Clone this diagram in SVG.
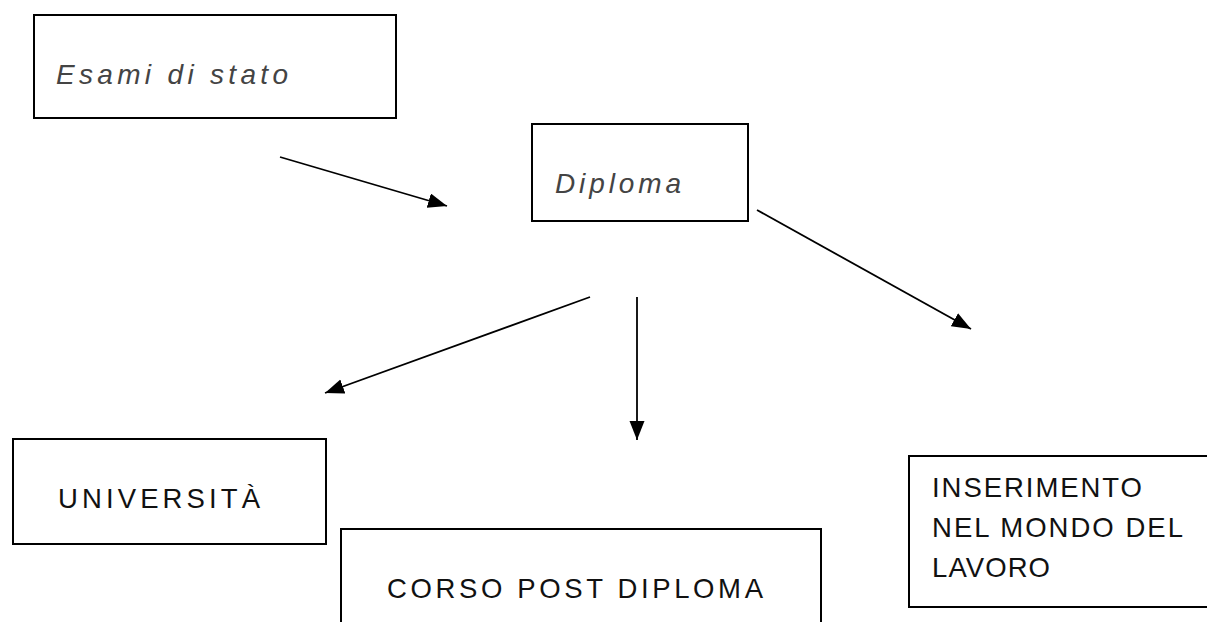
<svg xmlns="http://www.w3.org/2000/svg" width="1207" height="622" viewBox="0 0 1207 622">
<style>
.box{fill:#fff;stroke:#000;stroke-width:2}
.it{font-family:"Liberation Sans",Arial,sans-serif;font-style:italic;font-size:28px;fill:#444}
.up{font-family:"Liberation Sans",Arial,sans-serif;font-size:27.5px;fill:#111}
.con{stroke:#000;stroke-width:1.8;fill:none;marker-end:url(#ah)}
</style>
<defs>
<marker id="ah" markerUnits="userSpaceOnUse" markerWidth="22" markerHeight="16" refX="19" refY="7.5" orient="auto">
<path d="M0,0 L19,7.5 L0,15 z" fill="#000"/>
</marker>
</defs>
<rect width="1207" height="622" fill="#fff"/>
<g id="esami">
<rect class="box" x="34" y="15" width="362" height="103"/>
<text class="it" x="56" y="84" textLength="232" lengthAdjust="spacing">Esami di stato</text>
</g>
<g id="diploma">
<rect class="box" x="532" y="124" width="216" height="97"/>
<text class="it" x="555" y="193" textLength="126" lengthAdjust="spacing">Diploma</text>
</g>
<g id="universita">
<rect class="box" x="13" y="439" width="313" height="105"/>
<text class="up" x="58" y="508" textLength="202" lengthAdjust="spacing">UNIVERSITÀ</text>
</g>
<g id="corso">
<rect class="box" x="341" y="529" width="480" height="100"/>
<text class="up" x="387" y="598" textLength="376" lengthAdjust="spacing">CORSO POST DIPLOMA</text>
</g>
<g id="inserimento">
<rect class="box" x="909" y="456" width="310" height="151"/>
<text class="up" x="932" y="497" textLength="210" lengthAdjust="spacing">INSERIMENTO</text>
<text class="up" x="932" y="537" textLength="251" lengthAdjust="spacing">NEL MONDO DEL</text>
<text class="up" x="932" y="577" textLength="118" lengthAdjust="spacing">LAVORO</text>
</g>
<g id="connectors">
<line class="con" x1="280" y1="157" x2="447" y2="206"/>
<line class="con" x1="757" y1="210" x2="971" y2="329"/>
<line class="con" x1="590" y1="297" x2="325" y2="393"/>
<line class="con" x1="637" y1="297" x2="637" y2="440"/>
</g>
</svg>
